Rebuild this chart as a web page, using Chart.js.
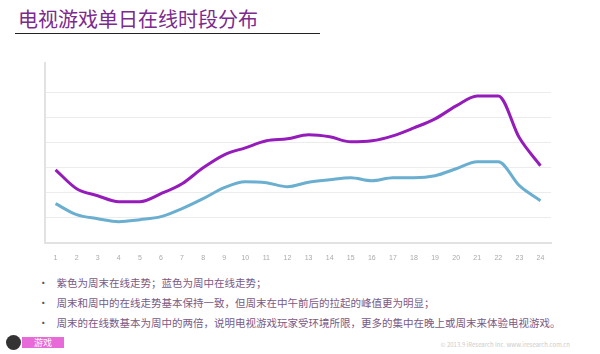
<!DOCTYPE html>
<html>
<head>
<meta charset="utf-8">
<script src="https://cdn.jsdelivr.net/npm/chart.js@4/dist/chart.umd.min.js"></script>
<style>
  html, body { margin: 0; padding: 0; background: #fff; }
  body { width: 600px; height: 354px; position: relative; overflow: hidden;
         font-family: "Noto Sans CJK SC", "Noto Sans", sans-serif; }
  #title { position: absolute; left: 18px; top: 6px; font-size: 20px; color: #7b2a8e;
           letter-spacing: 0px; line-height: 26px; }
  #rule { position: absolute; left: 15px; top: 33px; width: 305px; height: 1px; background: #222; }
  #wrap { position: absolute; left: 40px; top: 51px; width: 520px; height: 214px; }
  ul { position: absolute; left: 38px; top: 273px; margin: 0; padding: 0; list-style: none;
       font-size: 10.5px; color: #7a5a86; }
  li { height: 20px; line-height: 20px; }
  li::before { content: "•"; color: #555; margin-right: 8px; }
  #logo { position: absolute; left: 6px; top: 335px; width: 62px; height: 15px; }
  #logo .ball { position: absolute; left: 0; top: 0; width: 15px; height: 15px; border-radius: 50%; background: #333; }
  #logo .tag { position: absolute; left: 16px; top: 2px; width: 42px; height: 11px; background: #e86ad8;
               color: #fff; font-size: 9px; line-height: 11px; text-align: center; }
  #mark { position: absolute; right: 30px; top: 340px; font-size: 6px; color: #ccc; }
</style>
</head>
<body>
<div id="title">电视游戏单日在线时段分布</div>
<div id="rule"></div>
<div id="wrap"><canvas id="c"></canvas></div>
<ul>
  <li>紫色为周末在线走势；蓝色为周中在线走势；</li>
  <li>周末和周中的在线走势基本保持一致，但周末在中午前后的拉起的峰值更为明显；</li>
  <li>周末的在线数基本为周中的两倍，说明电视游戏玩家受环境所限，更多的集中在晚上或周末来体验电视游戏。</li>
</ul>
<div id="logo"><div class="ball"></div><div class="tag">游戏</div></div>
<div id="mark">© 2013.9 iResearch Inc.  www.iresearch.com.cn</div>
<script>
const hours = ['1','2','3','4','5','6','7','8','9','10','11','12','13','14','15','16','17','18','19','20','21','22','23','24'];
const weekend = [2.92,2.16,1.88,1.64,1.64,1.96,2.36,3.0,3.52,3.8,4.08,4.16,4.32,4.24,4.04,4.08,4.28,4.6,4.96,5.48,5.88,5.88,4.2,3.08];
const weekday = [1.56,1.12,0.96,0.84,0.92,1.04,1.36,1.76,2.2,2.44,2.4,2.24,2.42,2.52,2.6,2.48,2.6,2.6,2.68,2.96,3.24,3.24,2.28,1.68];

new Chart(document.getElementById('c'), {
  type: 'line',
  data: {
    labels: hours,
    datasets: [
      { label: '周末', data: weekend, borderColor: '#951cba', borderWidth: 3, pointRadius: 0, cubicInterpolationMode: 'monotone', fill: false },
      { label: '周中', data: weekday, borderColor: '#6aaed0', borderWidth: 3, pointRadius: 0, cubicInterpolationMode: 'monotone', fill: false }
    ]
  },
  options: {
    responsive: true,
    maintainAspectRatio: false,
    animation: false,
    layout: { padding: { left: 5, right: 9, top: 12, bottom: 0 } },
    plugins: { legend: { display: false }, tooltip: { enabled: false } },
    scales: {
      x: {
        offset: true,
        grid: { display: false },
        border: { color: '#e2e2e2', width: 2 },
        ticks: { color: '#aaa', font: { size: 7 }, maxRotation: 0, autoSkip: false }
      },
      y: {
        min: 0, max: 7.2,
        ticks: { display: false, stepSize: 1 },
        border: { color: '#e2e2e2', width: 2 },
        grid: { color: (ctx) => (ctx.tick.value === 0 || ctx.tick.value > 6.5) ? 'rgba(0,0,0,0)' : '#ececec', drawTicks: false },
      }
    }
  }
});
</script>
</body>
</html>
